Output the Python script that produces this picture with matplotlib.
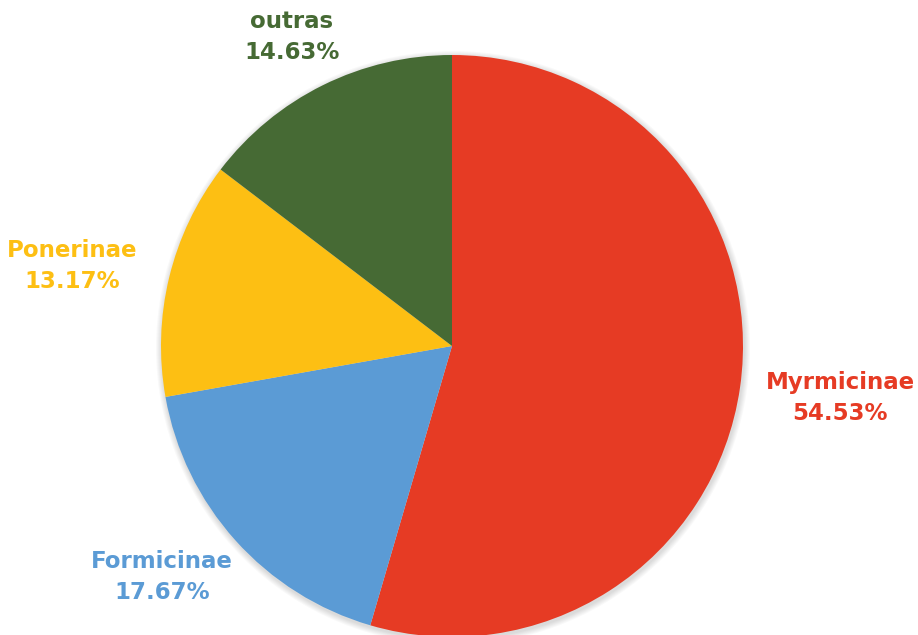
import matplotlib.pyplot as plt
from matplotlib.patches import Circle

# Subfamily shares of collected ants
subfamilies = ['Myrmicinae', 'Formicinae', 'Ponerinae', 'outras']
shares = [54.53, 17.67, 13.17, 14.63]
colors = ['#E63B24', '#5B9BD5', '#FDBF13', '#466A34']

# label anchor points (pixels from top-left)
label_xy = [(840, 398), (162, 577), (72, 266), (292, 37)]

W, H = 918, 635
fig = plt.figure(figsize=(W / 100, H / 100), dpi=100)
ax = fig.add_axes([0, 0, 1, 1])

cx, cy, r = 452, H - 346, 291

# soft shadow around the pie
for k in range(6):
    ax.add_patch(Circle((cx + 1, cy - 2), r + 1 + k, color='black',
                        alpha=0.025, lw=0, zorder=0))

ax.pie(shares, colors=colors, startangle=90, counterclock=False,
       center=(cx, cy), radius=r, frame=True,
       wedgeprops=dict(linewidth=0))
ax.set_xlim(0, W)
ax.set_ylim(0, H)
ax.set_aspect('equal')
ax.axis('off')

for name, val, col, (x, y) in zip(subfamilies, shares, colors, label_xy):
    ax.text(x, H - y, f'{name}\n{val:.2f}%', color=col, ha='center',
            va='center', fontsize=16.5, fontweight='bold',
            family='DejaVu Sans', linespacing=1.45)

fig.savefig('out.png', dpi=100)
